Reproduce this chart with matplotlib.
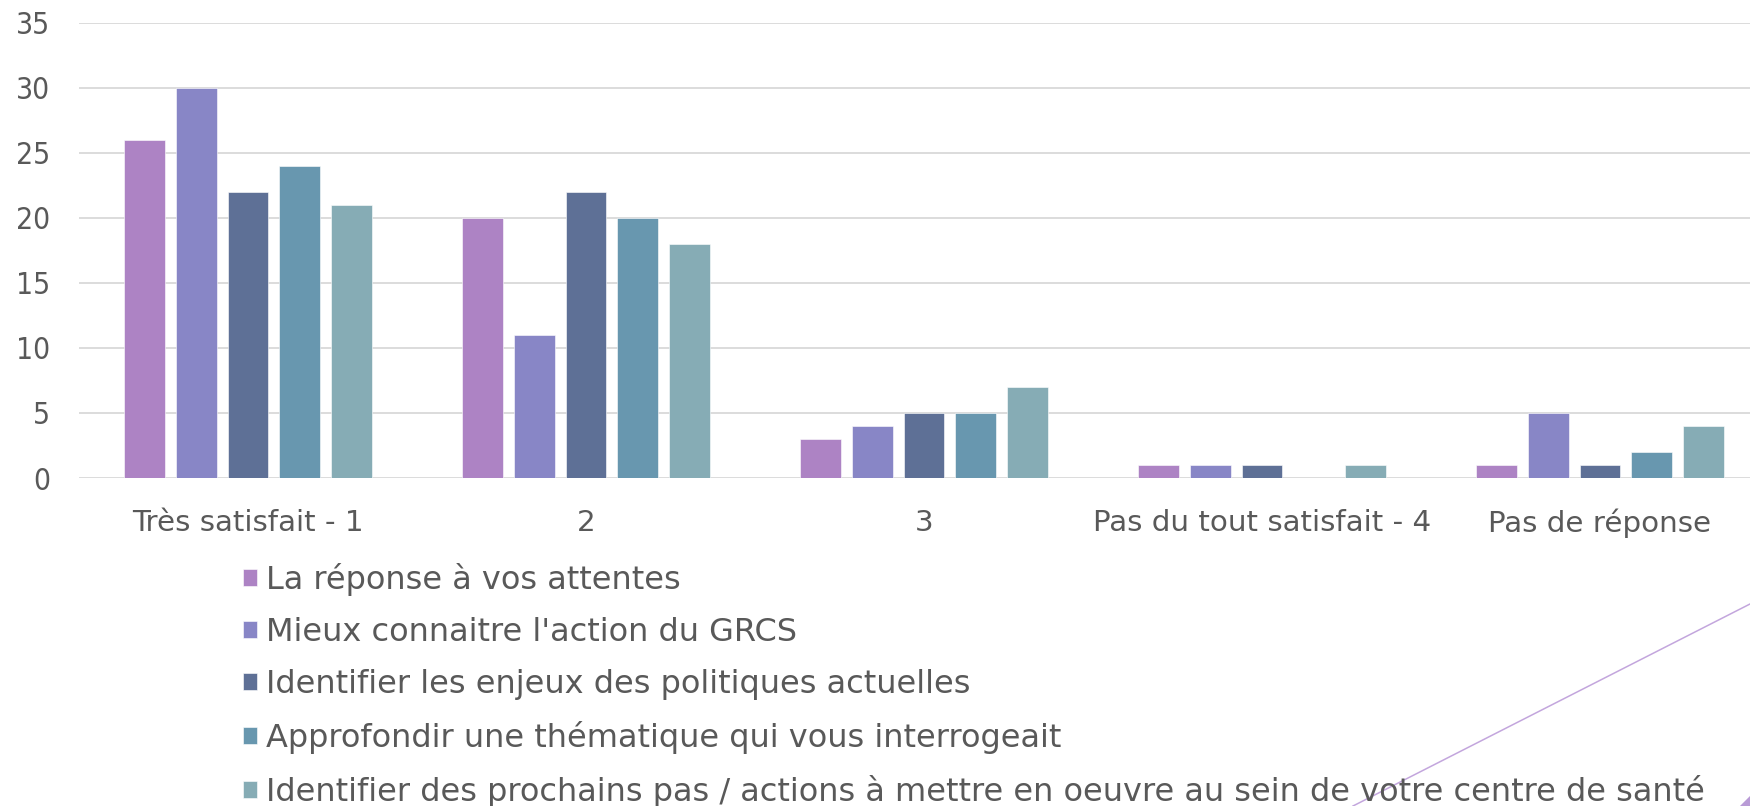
import matplotlib
matplotlib.use("Agg")
import matplotlib.pyplot as plt
from matplotlib.lines import Line2D
from matplotlib.patches import Polygon
import numpy as np

categories = ["Très satisfait - 1", "2", "3", "Pas du tout satisfait - 4", "Pas de réponse"]
series_names = [
    "La réponse à vos attentes",
    "Mieux connaitre l'action du GRCS",
    "Identifier les enjeux des politiques actuelles",
    "Approfondir une thématique qui vous interrogeait",
    "Identifier des prochains pas / actions à mettre en oeuvre au sein de votre centre de santé",
]
s1 = [26, 20, 3, 1, 1]
s2 = [30, 11, 4, 1, 5]
s3 = [22, 22, 5, 1, 1]
s4 = [24, 20, 5, 0, 2]
s5 = [21, 18, 7, 1, 4]
series_values = [s1, s2, s3, s4, s5]
colors = ["#AD83C4", "#8886C6", "#5E7096", "#6897AF", "#86ACB5"]
yticks = [0, 5, 10, 15, 20, 25, 30, 35]

TXT = "#595959"

W, H = 1750, 806
fig = plt.figure(figsize=(W / 100, H / 100), dpi=100)
ax = fig.add_axes([79 / W, 1 - 478 / H, 1690 / W, (478 - 22.5) / H])

x = np.arange(len(categories))
bw = 0.121
step = 0.153
handles = []
for i, (vals, c, name) in enumerate(zip(series_values, colors, series_names)):
    b = ax.bar(x + (i - 2) * step, vals, width=bw, color=c, edgecolor="#FFFFFF",
               linewidth=0.4, label=name, zorder=3)
    handles.append(b)

ax.set_xlim(-0.5, len(categories) - 0.5)
ax.set_ylim(0, 35)
ax.set_yticks(yticks)
ax.set_xticks(x)
ax.set_xticklabels(categories)
ax.yaxis.grid(True, color="#D9D9D9", linewidth=1.3, zorder=0)
ax.set_axisbelow(True)
for sp in ax.spines.values():
    sp.set_visible(False)
ax.tick_params(axis="both", length=0, labelcolor=TXT)
ax.tick_params(axis="y", pad=21, labelsize=21.5)
ax.tick_params(axis="x", pad=22, labelsize=21.2)
for lab in ax.get_yticklabels():
    lab.set_family("DejaVu Sans")
    lab.set_fontstretch("condensed")
for lab in ax.get_xticklabels():
    lab.set_family("DejaVu Sans")

leg = fig.legend(handles=handles, labels=series_names, loc="upper left",
                 bbox_to_anchor=(243 / W, 1 - 563 / H), frameon=False,
                 borderpad=0, borderaxespad=0, handlelength=0.44, handleheight=0.44,
                 handletextpad=0.29, labelspacing=0.655,
                 prop=dict(size=23, family="DejaVu Sans"))
for t in leg.get_texts():
    t.set_color(TXT)

# decorative line and corner triangle
fig.add_artist(Line2D([1750 / W, 1353 / W], [1 - 604 / H, 0], transform=fig.transFigure,
                      color="#C3A6DD", linewidth=1.1))
fig.add_artist(Polygon([[1, 10 / H], [1, 0], [1 - 10 / W, 0]], closed=True,
                       transform=fig.transFigure, color="#B99BD6", linewidth=0))

fig.savefig("out.png", dpi=100)
